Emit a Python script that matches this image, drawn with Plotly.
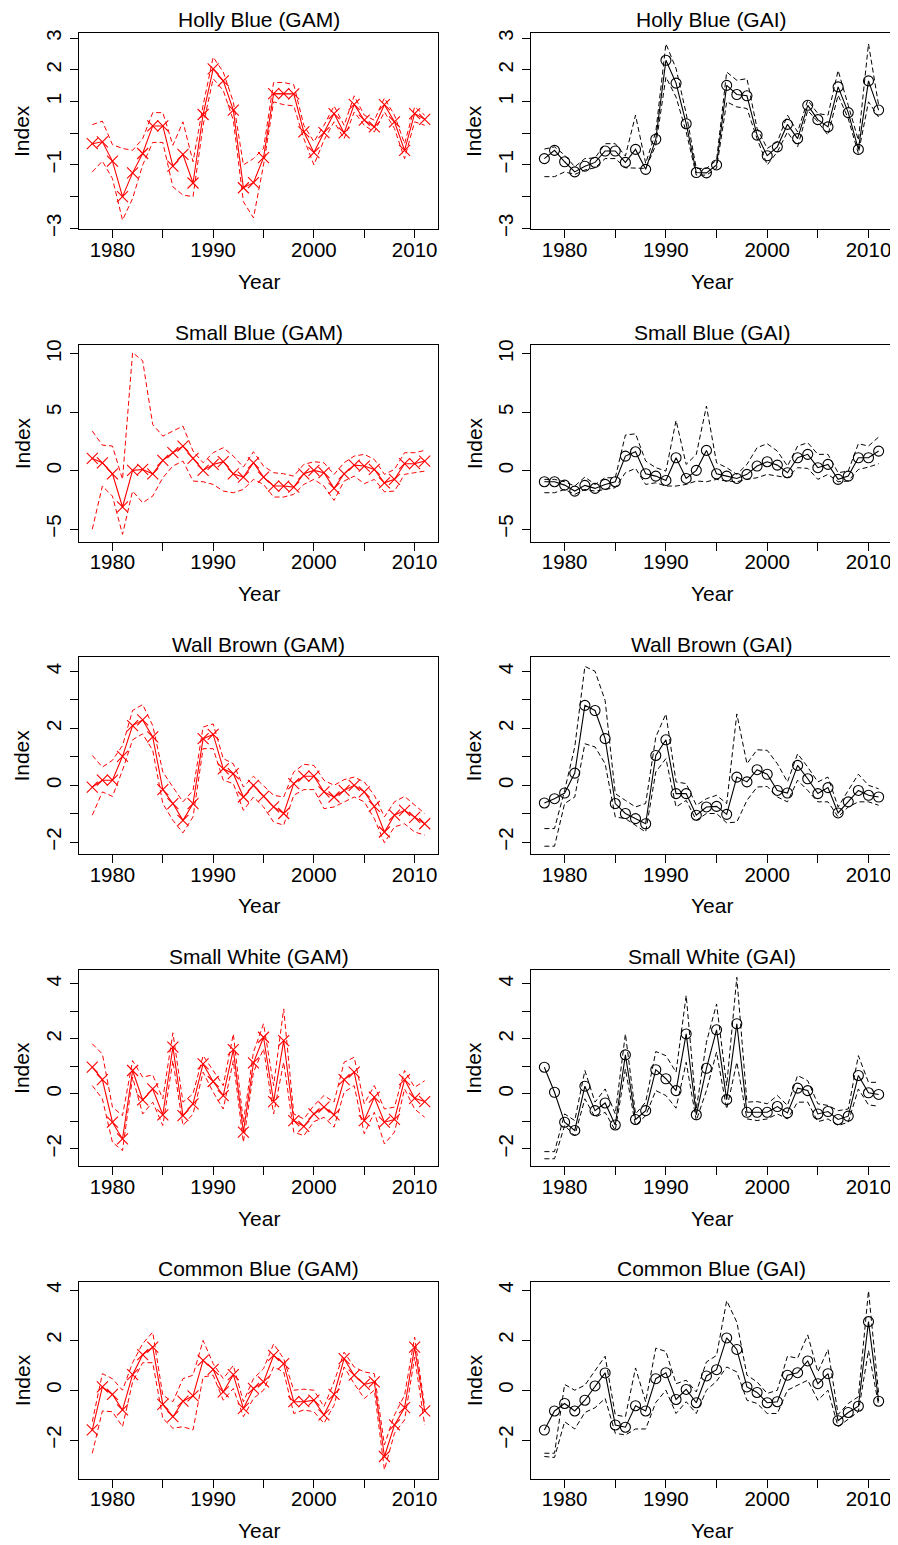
import plotly.graph_objects as go

years = list(range(1978, 2012))

# ---------------- Holly Blue ----------------
holly_gam = [-0.33, -0.27, -0.88, -2.0, -1.25, -0.64, 0.23, 0.23, -1.04, -0.67, -1.57, 0.59, 2.03, 1.65, 0.73,
             -1.72, -1.56, -0.77, 1.25, 1.25, 1.24, 0.04, -0.61, 0.02, 0.62, 0.01, 0.91, 0.41, 0.2, 0.9, 0.36,
             -0.54, 0.62, 0.44]
holly_gam_upper = [0.27, 0.38, -0.36, -0.48, -0.54, -0.17, 0.65, 0.65, -0.38, 0.36, -0.9, 0.88, 2.4, 1.93, 0.99,
                   -1.0, -0.8, -0.48, 1.6, 1.6, 1.53, 0.25, -0.27, 0.25, 0.86, 0.25, 1.18, 0.57, 0.41, 1.11, 0.57,
                   -0.33, 0.83, 0.57]
holly_gam_lower = [-1.22, -0.88, -1.43, -2.74, -2.06, -1.0, -0.29, -0.29, -1.69, -1.95, -2.0, 0.25, 1.72, 1.35, 0.41,
                   -2.16, -2.67, -1.0, 0.99, 0.9, 0.86, -0.17, -1.0, -0.22, 0.36, -0.17, 0.67, 0.25, 0.04, 0.67, 0.15,
                   -0.8, 0.36, 0.25]
holly_gai = [-0.8, -0.54, -0.9, -1.22, -1.04, -0.92, -0.56, -0.56, -0.92, -0.51, -1.14, -0.19, 2.3, 1.58, 0.3,
             -1.24, -1.25, -1.0, 1.51, 1.22, 1.18, -0.06, -0.71, -0.43, 0.28, -0.17, 0.88, 0.43, 0.2, 1.46, 0.65,
             -0.51, 1.65, 0.73]
holly_gai_upper = [-0.5, -0.43, -0.69, -1.06, -0.8, -0.78, -0.33, -0.33, -0.72, 0.57, -0.95, 0.04, 2.82, 2.04, 0.62,
                   -1.11, -1.11, -0.85, 1.93, 1.67, 1.72, 0.15, -0.48, -0.27, 0.57, 0.04, 1.04, 0.62, 0.57, 1.98, 0.88,
                   -0.22, 2.82, 0.88]
holly_gai_lower = [-1.37, -1.37, -1.22, -1.3, -1.16, -1.09, -0.8, -0.8, -1.09, -1.11, -1.11, -0.38, 1.77, 1.14, 0.04,
                   -1.32, -1.32, -1.11, 0.99, 0.83, 0.78, -0.17, -1.0, -0.59, 0.04, -0.43, 0.72, 0.36, -0.06, 1.2, 0.46,
                   -0.64, 0.99, 0.51]

# ---------------- Small Blue ----------------
smallblue_gam = [1.05, 0.68, -0.26, -3.1, 0.03, 0.11, -0.26, 0.88, 1.54, 2.1, 1.05, 0.03, 0.54, 0.77, -0.26,
                 -0.54, 0.68, -0.54, -1.31, -1.31, -1.4, -0.26, 0.03, -0.17, -1.51, -0.26, 0.48, 0.4, 0.11, -1.03,
                 -0.74, 0.6, 0.6, 0.83]
smallblue_gam_upper = [3.39, 2.19, 2.11, -0.74, 10.1, 9.4, 3.96, 2.96, 3.39, 3.82, 1.68, 0.68, 1.54, 1.97, 1.25,
                       0.31, 1.62, 0.4, -0.17, -0.26, -0.46, 0.54, 0.77, 0.68, -0.31, 0.68, 1.25, 1.4, 0.97, -0.31,
                       0.11, 1.54, 1.54, 1.74]
smallblue_gam_lower = [-5.0, -1.31, -2.17, -5.44, -1.74, -2.74, -2.17, -0.6, 0.4, 0.83, -0.88, -0.94, -1.17, -1.74,
                       -1.88, -1.6, -0.74, -1.17, -2.25, -2.25, -2.02, -1.17, -0.74, -1.31, -2.54, -0.88, -0.46, -1.11,
                       -0.74, -1.8, -1.74, -0.31, -0.17, -0.03]
smallblue_gai = [-0.94, -0.94, -1.23, -1.74, -1.25, -1.51, -1.17, -0.94, 1.25, 1.62, -0.26, -0.46, -0.83, 1.11,
                 -0.66, 0.03, 1.74, -0.26, -0.46, -0.66, -0.31, 0.4, 0.77, 0.48, -0.17, 1.11, 1.4, 0.26, 0.54, -0.74,
                 -0.46, 1.11, 1.11, 1.68]
smallblue_gai_upper = [-0.74, -0.74, -0.94, -1.31, -0.54, -1.17, -0.6, -0.6, 3.05, 3.16, 0.83, 0.26, -0.03, 4.3, 0.54,
                       1.4, 5.53, 0.68, 0.26, -0.31, 0.54, 1.97, 2.31, 1.68, 0.4, 2.11, 2.39, 1.4, 1.4, -0.17, -0.03,
                       2.31, 2.11, 2.88]
smallblue_gai_lower = [-1.88, -1.88, -1.6, -2.02, -1.6, -1.74, -1.6, -1.45, -0.17, 0.2, -1.17, -1.03, -1.31, -1.31,
                       -1.17, -0.88, -0.94, -0.74, -0.88, -0.94, -0.74, -0.6, -0.31, -0.46, -0.6, 0.26, 0.2, -0.74,
                       -0.31, -0.94, -0.88, 0.11, 0.31, 0.6]

# ---------------- Wall Brown ----------------
wall_gam = [-0.06, 0.18, 0.18, 1.02, 2.1, 2.3, 1.7, -0.15, -0.64, -1.23, -0.64, 1.64, 1.79, 0.58, 0.41, -0.41, 0.0,
            -0.39, -0.76, -0.99, 0.06, 0.32, 0.32, -0.23, -0.41, -0.18, 0.0, -0.23, -0.74, -1.64, -1.05, -0.88,
            -1.13, -1.35]
wall_gam_upper = [1.05, 0.64, 0.88, 1.4, 2.63, 2.84, 2.1, 0.47, -0.06, -0.58, -0.18, 2.05, 2.16, 0.94, 0.76, -0.06,
                  0.32, 0.0, -0.35, -0.41, 0.47, 0.74, 0.7, 0.18, 0.0, 0.2, 0.29, 0.12, -0.35, -1.11, -0.58, -0.39,
                  -0.7, -0.99]
wall_gam_lower = [-1.05, -0.23, -0.39, 0.53, 1.6, 1.81, 1.23, -0.64, -1.23, -1.67, -1.11, 1.29, 1.29, 0.18, 0.06,
                  -0.88, -0.41, -0.76, -1.29, -1.4, -0.35, -0.15, -0.15, -0.82, -0.76, -0.58, -0.41, -0.58, -1.17,
                  -2.02, -1.46, -1.35, -1.64, -1.75]
wall_gai = [-0.62, -0.47, -0.27, 0.43, 2.81, 2.63, 1.64, -0.64, -0.99, -1.17, -1.35, 1.05, 1.6, -0.29, -0.29, -1.05,
            -0.76, -0.74, -1.02, 0.29, 0.12, 0.55, 0.39, -0.18, -0.27, 0.7, 0.23, -0.29, -0.08, -0.97, -0.58, -0.18,
            -0.35, -0.41]
wall_gai_upper = [-1.52, -1.52, -0.18, 1.35, 4.18, 4.01, 2.98, -0.29, -0.53, -0.76, -0.64, 1.7, 2.51, 0.12, 0.06,
                  -0.7, -0.47, -0.35, -0.64, 2.51, 0.76, 1.25, 1.23, 0.76, 0.12, 1.11, 0.64, 0.12, 0.29, -0.76,
                  -0.18, 0.39, 0.0, -0.12]
wall_gai_lower = [-2.14, -2.14, -0.64, -0.41, 1.46, 1.35, 0.76, -1.11, -1.17, -1.4, -1.64, 0.47, 0.94, -0.76, -0.53,
                  -1.23, -0.99, -0.99, -1.32, -1.29, -0.53, -0.06, -0.04, -0.41, -0.58, 0.18, -0.18, -0.58, -0.58,
                  -1.11, -0.76, -0.58, -0.58, -0.7]

# ---------------- Small White ----------------
white_gam = [0.97, 0.52, -1.03, -1.64, 0.85, -0.22, 0.18, -0.76, 1.7, -0.79, -0.36, 1.09, 0.45, -0.06, 1.61, -1.39,
             1.13, 2.06, -0.28, 1.94, -0.97, -1.18, -0.73, -0.48, -0.76, 0.52, 0.79, -0.97, -0.12, -1.03, -0.93,
             0.52, -0.16, -0.28]
white_gam_upper = [1.82, 1.45, -0.48, -0.79, 1.21, 0.61, 0.69, -0.18, 2.22, -0.3, 0.0, 1.39, 0.85, 0.3, 2.18, -1.03,
                   1.52, 2.55, 0.3, 3.09, -0.73, -0.91, -0.42, -0.06, -0.3, 1.15, 1.33, -0.36, 0.3, -0.55, -0.48,
                   0.85, 0.24, 0.48]
white_gam_lower = [0.3, -0.18, -1.76, -2.06, 0.61, -0.73, -0.3, -1.15, 1.21, -1.15, -0.73, 0.79, 0.06, -0.55, 1.21,
                   -1.76, 0.79, 1.64, -0.73, 1.15, -1.39, -1.52, -1.01, -0.85, -1.21, 0.06, 0.3, -1.45, -0.67, -1.82,
                   -1.39, 0.18, -0.55, -0.85]
white_gai = [0.97, 0.06, -1.03, -1.33, 0.28, -0.61, -0.33, -1.13, 1.42, -0.93, -0.61, 0.88, 0.55, 0.12, 2.18, -0.76,
             0.93, 2.33, -0.21, 2.55, -0.67, -0.67, -0.67, -0.46, -0.69, 0.21, 0.12, -0.73, -0.64, -0.93, -0.81,
             0.67, 0.04, -0.02]
white_gai_upper = [-2.1, -2.1, -0.73, -0.97, 0.85, -0.3, 0.18, -0.73, 2.18, -0.73, -0.3, 1.54, 1.39, 0.79, 3.58,
                   -0.55, 1.88, 3.27, 0.3, 4.24, -0.3, -0.28, -0.36, -0.06, -0.42, 0.67, 0.48, -0.36, -0.42, -0.61,
                   -0.55, 1.39, 0.42, 0.42]
white_gai_lower = [-2.36, -2.36, -1.15, -1.52, -0.18, -0.85, -0.67, -1.33, 0.91, -1.15, -0.79, 0.12, -0.06, -0.52,
                   1.15, -0.97, 0.12, 1.52, -0.55, 1.15, -0.91, -0.97, -0.91, -0.73, -0.91, -0.3, -0.3, -1.01, -0.91,
                   -1.15, -1.03, 0.18, -0.4, -0.45]

# ---------------- Common Blue ----------------
common_gam = [-1.59, 0.13, -0.17, -0.79, 0.62, 1.42, 1.72, -0.57, -1.06, -0.44, -0.23, 1.19, 0.83, -0.07, 0.62,
              -0.73, 0.07, 0.33, 1.39, 1.06, -0.46, -0.46, -0.4, -0.99, -0.17, 1.26, 0.6, 0.23, 0.33, -2.65, -1.39,
              -0.7, 1.72, -0.83]
common_gam_upper = [-1.26, 0.66, 0.46, 0.0, 1.1, 1.86, 2.32, -0.2, -0.46, 0.46, 0.6, 1.99, 1.06, 0.46, 0.99, -0.46,
                    0.46, 0.86, 1.85, 1.26, 0.0, 0.04, 0.0, -0.66, 0.33, 1.52, 0.93, 0.73, 0.66, -2.19, -0.99, -0.2,
                    2.12, -0.66]
common_gam_lower = [-2.52, -0.83, -0.86, -1.46, 0.33, 1.1, 1.1, -1.13, -1.52, -1.46, -1.59, 0.53, 0.6, -0.4, 0.07,
                    -1.06, -0.33, 0.0, 0.93, 0.73, -0.93, -0.79, -0.86, -1.32, -0.6, 0.93, 0.26, -0.33, 0.0, -3.18,
                    -1.72, -1.19, 1.32, -1.39]
common_gai = [-1.59, -0.83, -0.53, -0.83, -0.4, 0.17, 0.69, -1.39, -1.48, -0.62, -0.83, 0.46, 0.7, -0.37, 0.03, -0.5,
              0.57, 0.82, 2.09, 1.63, 0.13, -0.09, -0.5, -0.46, 0.6, 0.7, 1.17, 0.26, 0.66, -1.22, -0.89, -0.64,
              2.74, -0.44]
common_gai_upper = [-2.52, -2.52, 0.23, 0.0, 0.2, 0.79, 1.36, -0.99, -1.06, 0.89, -0.46, 1.68, 1.55, 0.26, 0.4,
                    -0.07, 1.13, 1.39, 3.58, 2.72, 0.6, 0.33, -0.13, 0.0, 1.36, 1.28, 2.21, 0.73, 1.63, -0.97, -0.53,
                    -0.26, 3.97, -0.13]
common_gai_lower = [-2.65, -2.69, -1.26, -1.55, -0.89, -0.7, -0.33, -1.72, -1.79, -1.55, -1.55, -0.49, 0.0, -0.93,
                    -0.46, -0.93, 0.0, 0.36, 0.93, 0.73, -0.4, -0.53, -0.93, -0.93, 0.0, 0.2, 0.4, -0.4, 0.0, -1.46,
                    -1.15, -0.86, 1.59, -0.6]

species = ["Holly Blue", "Small Blue", "Wall Brown", "Small White", "Common Blue"]
gam_series = [(holly_gam, holly_gam_upper, holly_gam_lower),
              (smallblue_gam, smallblue_gam_upper, smallblue_gam_lower),
              (wall_gam, wall_gam_upper, wall_gam_lower),
              (white_gam, white_gam_upper, white_gam_lower),
              (common_gam, common_gam_upper, common_gam_lower)]
gai_series = [(holly_gai, holly_gai_upper, holly_gai_lower),
              (smallblue_gai, smallblue_gai_upper, smallblue_gai_lower),
              (wall_gai, wall_gai_upper, wall_gai_lower),
              (white_gai, white_gai_upper, white_gai_lower),
              (common_gai, common_gai_upper, common_gai_lower)]

y_ranges = [(-3.03, 3.17), (-6.06, 10.75), (-2.41, 4.5), (-2.63, 4.52), (-3.53, 4.33)]
y_tickvals = [[-3, -2, -1, 0, 1, 2, 3], [-5, 0, 5, 10], [-2, -1, 0, 1, 2, 3, 4],
              [-2, -1, 0, 1, 2, 3, 4], [-2, 0, 2, 4]]
y_ticktext = [["−3", "", "−1", "", "1", "2", "3"], ["−5", "0", "5", "10"], ["−2", "", "0", "", "2", "", "4"],
              ["−2", "", "0", "", "2", "", "4"], ["−2", "0", "2", "4"]]
x_tickvals = [1980, 1985, 1990, 1995, 2000, 2005, 2010]
x_ticktext = ["1980", "", "1990", "", "2000", "", "2010"]

# page body has an 8px margin: build the figure in page coordinates minus that offset
OFF = 8
W, H = 898 - OFF, 1545 - OFF
FONT = "Liberation Sans, Arial, Helvetica, sans-serif"
FS_TICK = 20.5
FS_LAB = 21
col_x = [(79 - OFF, 438 - OFF), (531 - OFF, 892 - OFF)]
row_top0, row_step, row_h = 32.7 - OFF, 312.3, 196.6

fig = go.Figure()
layout = dict(width=W, height=H, margin=dict(l=0, r=0, t=0, b=0), showlegend=False,
              plot_bgcolor="white", paper_bgcolor="white", font=dict(family=FONT, size=FS_LAB, color="black"))
annotations = []

idx = 0
for r in range(5):
    top = row_top0 + r * row_step
    bot = top + row_h
    for c in range(2):
        idx += 1
        xa = "x" if idx == 1 else f"x{idx}"
        ya = "y" if idx == 1 else f"y{idx}"
        if c == 0:
            series, color, symbol, msize, label = gam_series[r], "#FF0000", "x-thin-open", 11, "GAM"
        else:
            series, color, symbol, msize, label = gai_series[r], "black", "circle-open", 10, "GAI"
        centre, upper, lower = series
        for band in (upper, lower):
            fig.add_trace(go.Scatter(x=years, y=band, mode="lines", xaxis=xa, yaxis=ya,
                                     line=dict(color=color, width=1, dash="5px,3px"), hoverinfo="skip"))
        fig.add_trace(go.Scatter(x=years, y=centre, mode="lines+markers", xaxis=xa, yaxis=ya,
                                 line=dict(color=color, width=1.1),
                                 marker=dict(symbol=symbol, size=msize, color=color,
                                             line=dict(color=color, width=1.1))))
        x0, x1 = col_x[c]
        xkey = "xaxis" if idx == 1 else f"xaxis{idx}"
        ykey = "yaxis" if idx == 1 else f"yaxis{idx}"
        layout[xkey] = dict(domain=[x0 / W, x1 / W], anchor=ya, range=[1976.68, 2012.32],
                            tickvals=x_tickvals, ticktext=x_ticktext, ticks="outside", ticklen=8,
                            tickwidth=1, tickcolor="black", showline=True, linecolor="black", linewidth=1,
                            mirror=True, showgrid=False, zeroline=False, automargin=False,
                            ticklabelstandoff=-6,
                            tickfont=dict(family=FONT, size=FS_TICK, color="black"))
        layout[ykey] = dict(domain=[1 - bot / H, 1 - top / H], anchor=xa, range=list(y_ranges[r]),
                            tickvals=y_tickvals[r], ticktext=y_ticktext[r], ticks="outside", ticklen=8,
                            tickwidth=1, tickcolor="black", showline=True, linecolor="black", linewidth=1,
                            mirror=True, showgrid=False, zeroline=False, tickangle=-90, automargin=False,
                            ticklabelstandoff=1,
                            tickfont=dict(family=FONT, size=FS_TICK, color="black"))
        cx = (x0 + x1) / 2
        annotations.append(dict(text=f"{species[r]} ({label})", x=cx / W, y=1 - (top - 13) / H,
                                xref="paper", yref="paper", xanchor="center", yanchor="middle",
                                showarrow=False, font=dict(family=FONT, size=FS_LAB, color="black")))
        annotations.append(dict(text="Year", x=cx / W, y=1 - (bot + 52) / H,
                                xref="paper", yref="paper", xanchor="center", yanchor="middle",
                                showarrow=False, font=dict(family=FONT, size=FS_LAB, color="black")))
        annotations.append(dict(text="Index", x=(x0 - 57) / W, y=1 - ((top + bot) / 2) / H,
                                xref="paper", yref="paper", xanchor="center", yanchor="middle",
                                textangle=-90, showarrow=False,
                                font=dict(family=FONT, size=FS_LAB, color="black")))

layout["annotations"] = annotations
fig.update_layout(**layout)
fig.write_html("out.html")
